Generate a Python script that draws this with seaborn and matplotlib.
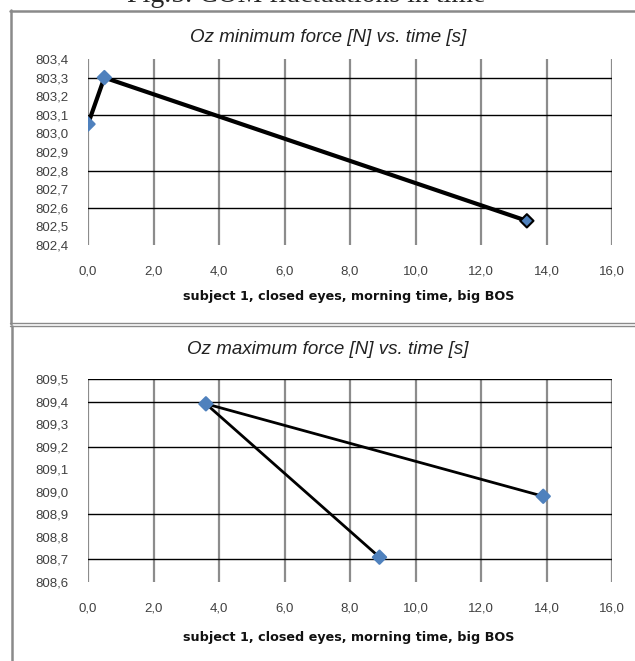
import matplotlib
matplotlib.use("Agg")
import pandas as pd
import seaborn as sns
import matplotlib.pyplot as plt
import matplotlib.ticker as ticker
from matplotlib.lines import Line2D

sns.set_style("white")
plt.rcParams["font.family"] = ["Liberation Sans", "DejaVu Sans"]

# data
min_time = [0.0, 0.5, 13.4]
min_force = [803.05, 803.30, 802.53]
max_time = [8.9, 3.6, 13.9]
max_force = [808.71, 809.39, 808.98]

min_grid = [803.3, 803.1, 802.8, 802.6]
max_grid = [809.5, 809.4, 809.2, 808.9, 808.7]

caption = "Fig.5. COM fluctuations in time"
title_min = "Oz minimum force [N] vs. time [s]"
title_max = "Oz maximum force [N] vs. time [s]"
xlabel = "subject 1, closed eyes, morning time, big BOS"

W, H = 635, 661
BLUE = "#4F81BD"


def px(x, y):
    return x / W, 1 - y / H


def comma(v, pos):
    return f"{v:.1f}".replace(".", ",")


def draw_panel(ax, df, ylim, grid_y, lw, last_edge):
    for gx in range(0, 17, 2):
        ax.axvline(gx, color="#8c8c8c", lw=1.6, zorder=1)
    for gy in grid_y:
        ax.axhline(gy, color="black", lw=1.0, zorder=1)
    sns.lineplot(data=df, x="t", y="f", sort=False, ax=ax, color="black",
                 lw=lw, zorder=3, estimator=None)
    edges = [BLUE] * (len(df) - 1) + [last_edge]
    ax.scatter(df["t"], df["f"], marker="D", s=46, color=BLUE,
               edgecolors=edges, linewidths=1.5, zorder=4)
    ax.set_xlim(0, 16)
    ax.set_ylim(*ylim)
    ax.xaxis.set_major_locator(ticker.MultipleLocator(2))
    ax.yaxis.set_major_locator(ticker.MultipleLocator(0.1))
    ax.xaxis.set_major_formatter(ticker.FuncFormatter(comma))
    ax.yaxis.set_major_formatter(ticker.FuncFormatter(comma))
    ax.tick_params(axis="x", length=0, pad=15, labelsize=9.5, labelcolor="#404040")
    ax.tick_params(axis="y", length=0, pad=14, labelsize=9.5, labelcolor="#404040")
    for s in ax.spines.values():
        s.set_visible(False)
    ax.set_xlabel("")
    ax.set_ylabel("")
    ax.grid(False)


fig = plt.figure(figsize=(W / 100, H / 100), dpi=100)

ax1 = fig.add_axes([88 / W, 1 - 245 / H, 524 / W, 186 / H])
ax2 = fig.add_axes([88 / W, 1 - 582 / H, 524 / W, 203 / H])

df_min = pd.DataFrame({"t": min_time, "f": min_force})
df_max = pd.DataFrame({"t": max_time, "f": max_force})

draw_panel(ax1, df_min, (802.4, 803.4), min_grid, 3.0, "black")
draw_panel(ax2, df_max, (808.6, 809.5), max_grid, 2.0, BLUE)

# texts
fig.text(*px(306, 2), caption, ha="center", va="baseline", fontsize=20,
         family="Liberation Serif")
fig.text(*px(328, 37), title_min, ha="center", va="center", fontsize=13.5,
         style="italic", color="#222222")
fig.text(*px(328, 350), title_max, ha="center", va="center", fontsize=13.5,
         style="italic", color="#222222")
fig.text(*px(349, 297), xlabel, ha="center", va="center", fontsize=9.2,
         weight="bold", family="DejaVu Sans", color="#111111")
fig.text(*px(349, 638), xlabel, ha="center", va="center", fontsize=9.2,
         weight="bold", family="DejaVu Sans", color="#111111")

# panel frames
frame = dict(color="#8a8a8a", lw=1.8)
fig.add_artist(Line2D(*zip(px(10.5, 10), px(10.5, 324)), **frame))
fig.add_artist(Line2D(*zip(px(10, 10.5), px(635, 10.5)), **frame))
fig.add_artist(Line2D(*zip(px(10, 323), px(635, 323)), color="#8a8a8a", lw=1.0))
fig.add_artist(Line2D(*zip(px(10, 326), px(635, 326)), color="#8a8a8a", lw=1.0))
fig.add_artist(Line2D(*zip(px(12, 326), px(12, 661)), **frame))

fig.savefig("out.png", dpi=100)
